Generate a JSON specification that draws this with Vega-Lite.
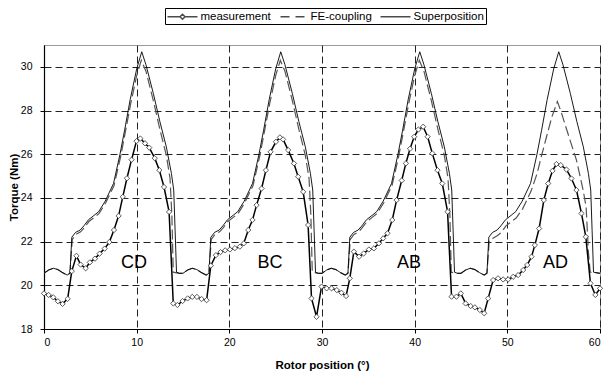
{
  "$schema": "https://vega.github.io/schema/vega-lite/v6.json",
  "width": 556,
  "height": 284,
  "autosize": "none",
  "padding": {"left": 44, "top": 45, "right": 4, "bottom": 45},
  "background": "white",
  "config": {
    "font": "Liberation Sans",
    "view": {"stroke": "#9a9a9a", "strokeWidth": 1},
    "axis": {
      "labelFont": "Liberation Sans",
      "labelFontSize": 10.5,
      "labelColor": "black",
      "tickColor": "black",
      "tickSize": 4,
      "domainColor": "black",
      "domainWidth": 1.2,
      "titleFont": "Liberation Sans",
      "titleFontSize": 11.5,
      "titleFontWeight": "bold",
      "titleColor": "black",
      "gridColor": "#222222",
      "gridDash": [7, 4],
      "gridWidth": 1,
      "gridOpacity": 1
    }
  },
  "datasets": {
    "sup": [
      {"x": 0, "y": 20.55}, {"x": 0.5, "y": 20.7}, {"x": 1.0, "y": 20.78}, {"x": 1.5, "y": 20.72}, {"x": 2.0, "y": 20.58}, {"x": 2.5, "y": 20.47}, {"x": 2.8, "y": 20.55},
      {"x": 3.0, "y": 22.2}, {"x": 3.4, "y": 22.42}, {"x": 3.9, "y": 22.53}, {"x": 4.3, "y": 22.72}, {"x": 4.8, "y": 23.0}, {"x": 5.4, "y": 23.2}, {"x": 5.9, "y": 23.37},
      {"x": 6.6, "y": 23.85}, {"x": 7.5, "y": 24.66}, {"x": 8.2, "y": 26.0}, {"x": 8.7, "y": 27.1}, {"x": 9.3, "y": 28.5}, {"x": 10.0, "y": 29.9}, {"x": 10.55, "y": 30.69},
      {"x": 11.0, "y": 30.1}, {"x": 11.8, "y": 28.78}, {"x": 12.5, "y": 27.5}, {"x": 13.2, "y": 26.34}, {"x": 13.75, "y": 25.12}, {"x": 14.0, "y": 24.36}, {"x": 14.15, "y": 22.5},
      {"x": 14.3, "y": 20.6}, {"x": 14.6, "y": 20.55},
      {"x": 15, "y": 20.55}, {"x": 15.5, "y": 20.7}, {"x": 16.0, "y": 20.78}, {"x": 16.5, "y": 20.72}, {"x": 17.0, "y": 20.58}, {"x": 17.5, "y": 20.47}, {"x": 17.8, "y": 20.55},
      {"x": 18.0, "y": 22.2}, {"x": 18.4, "y": 22.42}, {"x": 18.9, "y": 22.53}, {"x": 19.3, "y": 22.72}, {"x": 19.8, "y": 23.0}, {"x": 20.4, "y": 23.2}, {"x": 20.9, "y": 23.37},
      {"x": 21.6, "y": 23.85}, {"x": 22.5, "y": 24.66}, {"x": 23.2, "y": 26.0}, {"x": 23.7, "y": 27.1}, {"x": 24.3, "y": 28.5}, {"x": 25.0, "y": 29.9}, {"x": 25.55, "y": 30.69},
      {"x": 26.0, "y": 30.1}, {"x": 26.8, "y": 28.78}, {"x": 27.5, "y": 27.5}, {"x": 28.2, "y": 26.34}, {"x": 28.75, "y": 25.12}, {"x": 29.0, "y": 24.36}, {"x": 29.15, "y": 22.5},
      {"x": 29.3, "y": 20.6}, {"x": 29.6, "y": 20.55},
      {"x": 30, "y": 20.55}, {"x": 30.5, "y": 20.7}, {"x": 31.0, "y": 20.78}, {"x": 31.5, "y": 20.72}, {"x": 32.0, "y": 20.58}, {"x": 32.5, "y": 20.47}, {"x": 32.8, "y": 20.55},
      {"x": 33.0, "y": 22.2}, {"x": 33.4, "y": 22.42}, {"x": 33.9, "y": 22.53}, {"x": 34.3, "y": 22.72}, {"x": 34.8, "y": 23.0}, {"x": 35.4, "y": 23.2}, {"x": 35.9, "y": 23.37},
      {"x": 36.6, "y": 23.85}, {"x": 37.5, "y": 24.66}, {"x": 38.2, "y": 26.0}, {"x": 38.7, "y": 27.1}, {"x": 39.3, "y": 28.5}, {"x": 40.0, "y": 29.9}, {"x": 40.55, "y": 30.69},
      {"x": 41.0, "y": 30.1}, {"x": 41.8, "y": 28.78}, {"x": 42.5, "y": 27.5}, {"x": 43.2, "y": 26.34}, {"x": 43.75, "y": 25.12}, {"x": 44.0, "y": 24.36}, {"x": 44.15, "y": 22.5},
      {"x": 44.3, "y": 20.6}, {"x": 44.6, "y": 20.55},
      {"x": 45, "y": 20.55}, {"x": 45.5, "y": 20.7}, {"x": 46.0, "y": 20.78}, {"x": 46.5, "y": 20.72}, {"x": 47.0, "y": 20.58}, {"x": 47.5, "y": 20.47}, {"x": 47.8, "y": 20.55},
      {"x": 48.0, "y": 22.2}, {"x": 48.4, "y": 22.42}, {"x": 48.9, "y": 22.53}, {"x": 49.3, "y": 22.72}, {"x": 49.8, "y": 23.0}, {"x": 50.4, "y": 23.2}, {"x": 50.9, "y": 23.37},
      {"x": 51.6, "y": 23.85}, {"x": 52.5, "y": 24.66}, {"x": 53.2, "y": 26.0}, {"x": 53.7, "y": 27.1}, {"x": 54.3, "y": 28.5}, {"x": 55.0, "y": 29.9}, {"x": 55.55, "y": 30.69},
      {"x": 56.0, "y": 30.1}, {"x": 56.8, "y": 28.78}, {"x": 57.5, "y": 27.5}, {"x": 58.2, "y": 26.34}, {"x": 58.75, "y": 25.12}, {"x": 59.0, "y": 24.36}, {"x": 59.15, "y": 22.5},
      {"x": 59.3, "y": 20.6}, {"x": 60, "y": 20.55}
    ],
    "fe": [
      {"x": 0, "y": 20.55}, {"x": 0.5, "y": 20.7}, {"x": 1.0, "y": 20.78}, {"x": 1.5, "y": 20.72}, {"x": 2.0, "y": 20.58}, {"x": 2.5, "y": 20.47}, {"x": 2.8, "y": 20.55},
      {"x": 3.05, "y": 22.1}, {"x": 3.45, "y": 22.33}, {"x": 3.95, "y": 22.45}, {"x": 4.35, "y": 22.64}, {"x": 4.85, "y": 22.92}, {"x": 5.45, "y": 23.12}, {"x": 5.95, "y": 23.29},
      {"x": 6.65, "y": 23.77}, {"x": 7.55, "y": 24.56}, {"x": 8.25, "y": 25.85}, {"x": 8.75, "y": 26.95}, {"x": 9.35, "y": 28.3}, {"x": 10.0, "y": 29.6}, {"x": 10.5, "y": 30.3},
      {"x": 11.0, "y": 29.8}, {"x": 11.8, "y": 28.45}, {"x": 12.5, "y": 27.15}, {"x": 13.2, "y": 25.95}, {"x": 13.6, "y": 24.9}, {"x": 13.8, "y": 23.2}, {"x": 13.95, "y": 20.6},
      {"x": 14.6, "y": 20.55},
      {"x": 15, "y": 20.55}, {"x": 15.5, "y": 20.7}, {"x": 16.0, "y": 20.78}, {"x": 16.5, "y": 20.72}, {"x": 17.0, "y": 20.58}, {"x": 17.5, "y": 20.47}, {"x": 17.8, "y": 20.55},
      {"x": 18.05, "y": 22.1}, {"x": 18.45, "y": 22.33}, {"x": 18.95, "y": 22.45}, {"x": 19.35, "y": 22.64}, {"x": 19.85, "y": 22.92}, {"x": 20.45, "y": 23.12}, {"x": 20.95, "y": 23.29},
      {"x": 21.65, "y": 23.77}, {"x": 22.55, "y": 24.56}, {"x": 23.25, "y": 25.85}, {"x": 23.75, "y": 26.95}, {"x": 24.35, "y": 28.3}, {"x": 25.0, "y": 29.6}, {"x": 25.5, "y": 30.3},
      {"x": 26.0, "y": 29.8}, {"x": 26.8, "y": 28.45}, {"x": 27.5, "y": 27.15}, {"x": 28.2, "y": 25.95}, {"x": 28.6, "y": 24.9}, {"x": 28.8, "y": 23.2}, {"x": 28.95, "y": 20.6},
      {"x": 29.6, "y": 20.55},
      {"x": 30, "y": 20.55}, {"x": 30.5, "y": 20.7}, {"x": 31.0, "y": 20.78}, {"x": 31.5, "y": 20.72}, {"x": 32.0, "y": 20.58}, {"x": 32.5, "y": 20.47}, {"x": 32.8, "y": 20.55},
      {"x": 33.05, "y": 22.1}, {"x": 33.45, "y": 22.33}, {"x": 33.95, "y": 22.45}, {"x": 34.35, "y": 22.64}, {"x": 34.85, "y": 22.92}, {"x": 35.45, "y": 23.12}, {"x": 35.95, "y": 23.29},
      {"x": 36.65, "y": 23.77}, {"x": 37.55, "y": 24.56}, {"x": 38.25, "y": 25.85}, {"x": 38.75, "y": 26.95}, {"x": 39.35, "y": 28.3}, {"x": 40.0, "y": 29.6}, {"x": 40.5, "y": 30.3},
      {"x": 41.0, "y": 29.8}, {"x": 41.8, "y": 28.45}, {"x": 42.5, "y": 27.15}, {"x": 43.2, "y": 25.95}, {"x": 43.6, "y": 24.9}, {"x": 43.8, "y": 23.2}, {"x": 43.95, "y": 20.6},
      {"x": 44.6, "y": 20.55},
      {"x": 45, "y": 20.55}, {"x": 45.5, "y": 20.7}, {"x": 46.0, "y": 20.78}, {"x": 46.5, "y": 20.72}, {"x": 47.0, "y": 20.58}, {"x": 47.5, "y": 20.47}, {"x": 47.8, "y": 20.55},
      {"x": 48.05, "y": 22.05}, {"x": 48.45, "y": 22.15}, {"x": 48.95, "y": 22.28}, {"x": 49.35, "y": 22.42}, {"x": 49.85, "y": 22.72}, {"x": 50.45, "y": 22.92}, {"x": 50.95, "y": 23.08},
      {"x": 51.65, "y": 23.5}, {"x": 52.55, "y": 24.3}, {"x": 53.2, "y": 25.1}, {"x": 53.7, "y": 25.95}, {"x": 54.23, "y": 26.8}, {"x": 54.8, "y": 27.7}, {"x": 55.4, "y": 28.41},
      {"x": 55.8, "y": 27.95}, {"x": 56.2, "y": 27.4}, {"x": 56.8, "y": 26.6}, {"x": 57.46, "y": 25.73}, {"x": 58.18, "y": 24.36}, {"x": 58.5, "y": 23.6}, {"x": 58.75, "y": 21.5},
      {"x": 58.95, "y": 20.6}, {"x": 59.5, "y": 20.58}, {"x": 60, "y": 20.55}
    ],
    "meas": [
      {"x": 0.0, "y": 19.63}, {"x": 0.5, "y": 19.56}, {"x": 1.0, "y": 19.45}, {"x": 1.5, "y": 19.27}, {"x": 2.0, "y": 19.15}, {"x": 2.55, "y": 19.38}, {"x": 3.0, "y": 20.65},
      {"x": 3.5, "y": 21.35}, {"x": 3.95, "y": 20.95}, {"x": 4.5, "y": 20.78}, {"x": 4.95, "y": 21.05}, {"x": 5.5, "y": 21.22}, {"x": 6.0, "y": 21.45}, {"x": 6.55, "y": 21.68},
      {"x": 7.05, "y": 21.98}, {"x": 7.55, "y": 22.53}, {"x": 8.05, "y": 23.18}, {"x": 8.5, "y": 24.05}, {"x": 8.95, "y": 24.9}, {"x": 9.45, "y": 25.75}, {"x": 9.98, "y": 26.6},
      {"x": 10.4, "y": 26.72}, {"x": 10.9, "y": 26.5}, {"x": 11.36, "y": 26.3}, {"x": 11.95, "y": 25.82}, {"x": 12.45, "y": 25.27}, {"x": 12.95, "y": 24.5}, {"x": 13.5, "y": 23.36},
      {"x": 13.95, "y": 19.17}, {"x": 14.4, "y": 19.1}, {"x": 14.95, "y": 19.28}, {"x": 15.5, "y": 19.4}, {"x": 16.0, "y": 19.47}, {"x": 16.5, "y": 19.47}, {"x": 17.0, "y": 19.37},
      {"x": 17.55, "y": 19.32}, {"x": 18.0, "y": 20.9}, {"x": 18.55, "y": 21.38}, {"x": 19.05, "y": 21.52}, {"x": 19.55, "y": 21.6}, {"x": 20.07, "y": 21.64}, {"x": 20.6, "y": 21.7},
      {"x": 21.14, "y": 21.77}, {"x": 21.56, "y": 21.92}, {"x": 22.04, "y": 22.53}, {"x": 22.5, "y": 22.99}, {"x": 22.94, "y": 23.67}, {"x": 23.48, "y": 24.43}, {"x": 23.95, "y": 25.27},
      {"x": 24.45, "y": 26.11}, {"x": 25.03, "y": 26.57}, {"x": 25.46, "y": 26.77}, {"x": 25.8, "y": 26.68}, {"x": 26.35, "y": 26.19}, {"x": 26.97, "y": 25.58}, {"x": 27.43, "y": 24.97},
      {"x": 27.97, "y": 24.28}, {"x": 28.5, "y": 22.76}, {"x": 28.87, "y": 19.4}, {"x": 29.41, "y": 18.56}, {"x": 29.95, "y": 19.94}, {"x": 30.5, "y": 19.86}, {"x": 31.03, "y": 19.86},
      {"x": 31.6, "y": 19.78}, {"x": 32.1, "y": 19.66}, {"x": 32.6, "y": 19.51}, {"x": 33.0, "y": 20.32}, {"x": 33.44, "y": 21.54}, {"x": 34.0, "y": 21.31}, {"x": 34.5, "y": 21.46},
      {"x": 35.06, "y": 21.64}, {"x": 35.6, "y": 21.69}, {"x": 36.14, "y": 21.92}, {"x": 36.6, "y": 22.15}, {"x": 37.07, "y": 22.38}, {"x": 37.58, "y": 22.99}, {"x": 38.05, "y": 23.9},
      {"x": 38.6, "y": 24.8}, {"x": 39.05, "y": 25.58}, {"x": 39.5, "y": 26.25}, {"x": 39.95, "y": 26.8}, {"x": 40.4, "y": 27.13}, {"x": 40.92, "y": 27.26}, {"x": 41.4, "y": 26.8},
      {"x": 41.9, "y": 26.04}, {"x": 42.46, "y": 25.27}, {"x": 42.98, "y": 24.66}, {"x": 43.55, "y": 23.37}, {"x": 43.98, "y": 19.48}, {"x": 44.51, "y": 19.48}, {"x": 44.98, "y": 19.63},
      {"x": 45.5, "y": 19.17}, {"x": 46.04, "y": 19.05}, {"x": 46.5, "y": 18.99}, {"x": 47.03, "y": 18.87}, {"x": 47.5, "y": 18.72}, {"x": 47.93, "y": 19.4}, {"x": 48.47, "y": 20.24},
      {"x": 49.0, "y": 20.32}, {"x": 49.55, "y": 20.27}, {"x": 50.09, "y": 20.27}, {"x": 50.63, "y": 20.39}, {"x": 51.17, "y": 20.47}, {"x": 51.71, "y": 20.7}, {"x": 52.14, "y": 20.93},
      {"x": 52.61, "y": 21.31}, {"x": 52.97, "y": 21.84}, {"x": 53.43, "y": 22.6}, {"x": 53.94, "y": 23.9}, {"x": 54.41, "y": 24.66}, {"x": 54.87, "y": 25.24}, {"x": 55.3, "y": 25.55},
      {"x": 55.77, "y": 25.5}, {"x": 56.38, "y": 25.3}, {"x": 56.92, "y": 24.89}, {"x": 57.46, "y": 24.36}, {"x": 58.0, "y": 23.29}, {"x": 58.47, "y": 22.22}, {"x": 58.97, "y": 20.09},
      {"x": 59.5, "y": 19.56}, {"x": 60.0, "y": 19.86}
    ],
    "labels": [
      {"x": 9.7, "y": 21.0, "t": "CD"},
      {"x": 24.4, "y": 21.0, "t": "BC"},
      {"x": 39.4, "y": 21.0, "t": "AB"},
      {"x": 55.2, "y": 21.0, "t": "AD"}
    ]
  },
  "encoding": {
    "x": {
      "field": "x", "type": "quantitative",
      "scale": {"domain": [0, 60], "nice": false, "zero": false},
      "axis": {"values": [0, 10, 20, 30, 40, 50, 60], "title": "Rotor position (°)", "labelPadding": 4, "titlePadding": 12, "grid": true}
    },
    "y": {
      "field": "y", "type": "quantitative",
      "scale": {"domain": [18, 31], "nice": false, "zero": false},
      "axis": {"values": [18, 20, 22, 24, 26, 28, 30], "title": "Torque (Nm)", "labelPadding": 8, "titlePadding": 1, "grid": true}
    }
  },
  "layer": [
    {
      "data": {"name": "fe"},
      "mark": {"type": "line", "color": "#555555", "strokeWidth": 1.2, "strokeDash": [10, 4], "clip": true}
    },
    {
      "data": {"name": "sup"},
      "mark": {"type": "line", "color": "black", "strokeWidth": 0.9, "clip": true}
    },
    {
      "data": {"name": "meas"},
      "mark": {"type": "line", "color": "black", "strokeWidth": 1.5, "clip": true}
    },
    {
      "data": {"name": "meas"},
      "mark": {"type": "point", "shape": "diamond", "filled": true, "fill": "white", "stroke": "#333333", "strokeWidth": 0.8, "size": 28, "opacity": 1}
    },
    {
      "data": {"name": "labels"},
      "transform": [{"filter": "datum.t === 'none'"}],
      "mark": {"type": "point", "filled": false, "stroke": "black", "strokeWidth": 1.3},
      "encoding": {
        "shape": {
          "datum": "measurement", "type": "nominal",
          "scale": {
            "domain": ["measurement", "FE-coupling", "Superposition"],
            "range": ["M-1,0H1.08M1.92,0H4M1.08,0L1.5,-0.42L1.92,0L1.5,0.42Z", "M-0.5,0H1M2,0H3.5", "M-1,0H4"]
          },
          "legend": {
            "orient": "none", "legendX": 121, "legendY": -37,
            "direction": "horizontal", "title": null,
            "strokeColor": "black", "fillColor": "white", "padding": 1.5,
            "labelFont": "Liberation Sans", "labelFontSize": 11.5, "labelColor": "black",
            "labelOffset": 20, "columnPadding": 5, "symbolSize": 144,
            "encode": {
              "symbols": {
                "update": {
                  "opacity": {"value": 1},
                  "stroke": {"value": "black"},
                  "fill": {"value": "white"},
                  "strokeWidth": {"signal": "datum.value === 'Superposition' ? 1 : 1.5"}
                }
              }
            }
          }
        }
      }
    },
    {
      "data": {"name": "labels"},
      "mark": {"type": "text", "fontSize": 18, "font": "Liberation Sans", "color": "black", "align": "center", "baseline": "middle"},
      "encoding": {"text": {"field": "t", "type": "nominal"}}
    }
  ]
}
